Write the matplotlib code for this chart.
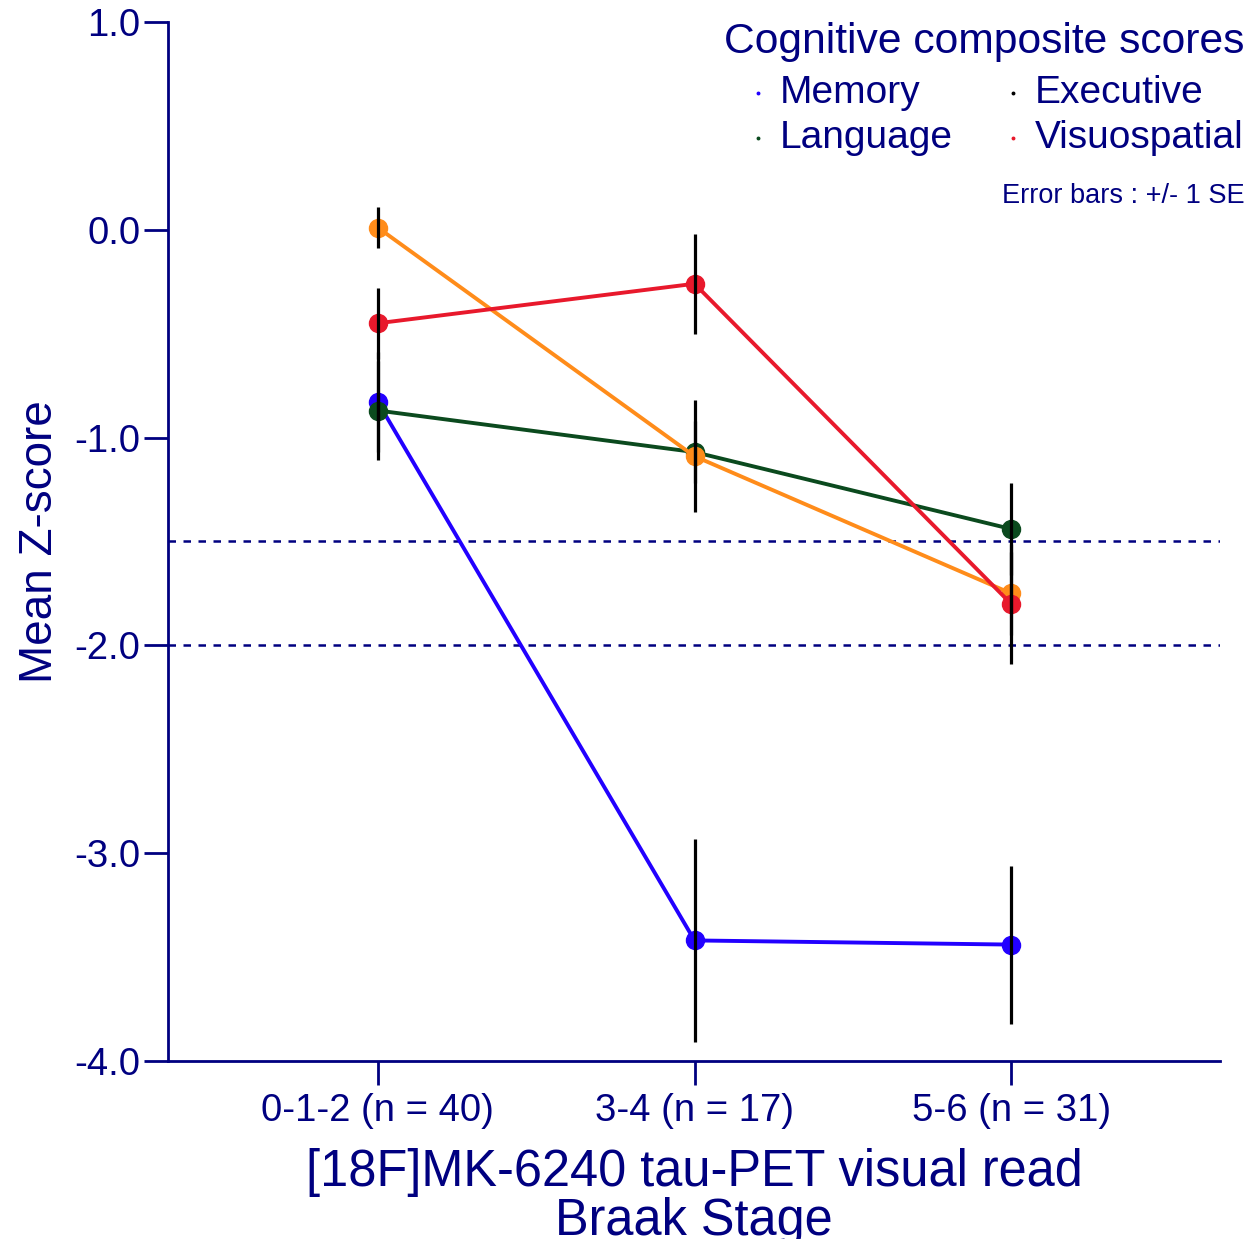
import matplotlib.pyplot as plt

plt.rcParams['font.family'] = ['Liberation Sans', 'DejaVu Sans']

NAVY = '#000080'

stages = ['0-1-2 (n = 40)', '3-4 (n = 17)', '5-6 (n = 31)']

memory = [-0.83, -3.42, -3.44]
memory_se = [0.24, 0.49, 0.38]
language = [-0.87, -1.07, -1.44]
language_se = [0.24, 0.15, 0.22]
executive = [0.01, -1.09, -1.75]
executive_se = [0.10, 0.27, 0.20]
visuospatial = [-0.45, -0.26, -1.80]
visuospatial_se = [0.17, 0.24, 0.29]

cutoffs = [-1.5, -2.0]

series = [
    ('Memory', memory, memory_se, '#2200ff'),
    ('Language', language, language_se, '#0b4a1e'),
    ('Executive', executive, executive_se, '#ff8c1a'),
    ('Visuospatial', visuospatial, visuospatial_se, '#e8192c'),
]

# legend entries: name, dot colour, column, row
legend_items = [
    ('Memory', '#2200ff', 0, 0),
    ('Executive', 'black', 1, 0),
    ('Language', '#0b4a1e', 0, 1),
    ('Visuospatial', '#e8192c', 1, 1),
]

fig = plt.figure(figsize=(12.53, 12.39), dpi=100)
ax = fig.add_axes([0.1341, 0.1437, 0.8396, 0.8386])

x = list(range(len(stages)))
for name, vals, se, col in series:
    ax.plot(x, vals, color=col, lw=2.8, marker='o', ms=13, zorder=3)
    ax.errorbar(x, vals, yerr=se, fmt='none', ecolor='black', elinewidth=2.3,
                capsize=0, zorder=4)

for c in cutoffs:
    ax.axhline(c, color=NAVY, lw=1.8, ls=(0, (3, 3)), zorder=1)

ax.set_xlim(-0.663, 2.66)
ax.set_ylim(-4, 1)
ax.set_yticks([1, 0, -1, -2, -3, -4])
ax.set_yticklabels(['1.0', '0.0', '-1.0', '-2.0', '-3.0', '-4.0'])
ax.set_xticks(x)
ax.set_xticklabels(stages)

for s in ['top', 'right']:
    ax.spines[s].set_visible(False)
for s in ['left', 'bottom']:
    ax.spines[s].set_color(NAVY)
    ax.spines[s].set_linewidth(2)

ax.tick_params(axis='both', colors=NAVY, labelcolor=NAVY, width=2, length=17,
               labelsize=27.5)
ax.tick_params(axis='y', pad=3)
ax.tick_params(axis='x', pad=6)

ax.set_ylabel('Mean Z-score', fontsize=33, color=NAVY, labelpad=9)
ax.set_xlabel('[18F]MK-6240 tau-PET visual read\nBraak Stage', fontsize=36.4,
              color=NAVY, labelpad=14, linespacing=1.0)

# legend block, placed in figure pixels (top-left origin)
W, H = 1253, 1239


def fx(px):
    return px / W


def fy(py):
    return 1 - py / H


fig.text(fx(724), fy(42), 'Cognitive composite scores', fontsize=30.7,
         color=NAVY, ha='left', va='center')
col_dot = [758, 1013]
col_txt = [780, 1035]
row_y = [93, 138]
for name, dcol, c, r in legend_items:
    fig.lines.append(plt.Line2D([fx(col_dot[c])], [fy(row_y[r])], ls='none',
                                marker='o', ms=1.8, color=dcol,
                                transform=fig.transFigure))
    fig.text(fx(col_txt[c]), fy(row_y[r]), name, fontsize=28, color=NAVY,
             ha='left', va='center')

fig.text(fx(1245), fy(196), 'Error bars : +/- 1 SE', fontsize=19.5,
         color=NAVY, ha='right', va='center')

fig.savefig('out.png', dpi=100)
